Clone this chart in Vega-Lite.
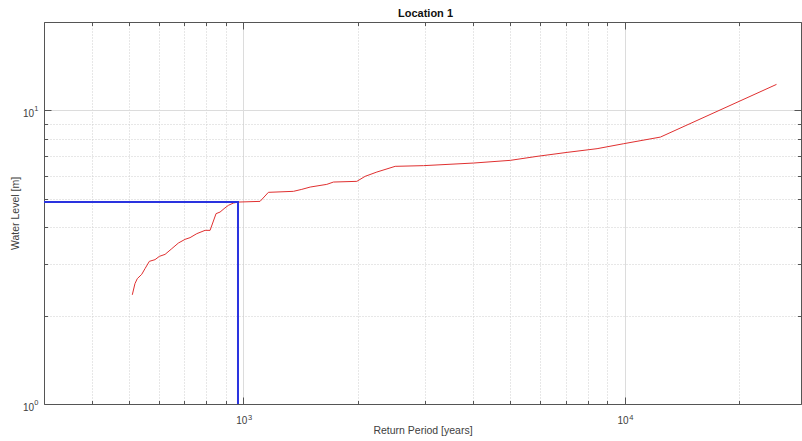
{
  "$schema": "https://vega.github.io/schema/vega-lite/v6.json",
  "width": 757,
  "height": 382,
  "autosize": {"type": "none"},
  "padding": {"left": 44, "top": 22, "right": 1, "bottom": 37},
  "background": "white",
  "title": {"text": "Location 1", "fontSize": 11, "fontWeight": "bold", "font": "Liberation Sans", "color": "#111111", "offset": 2.5, "dx": 3},
  "datasets": {
    "red": [
      {"rp": 511.3, "wl": 2.354},
      {"rp": 519.6, "wl": 2.570},
      {"rp": 527.0, "wl": 2.673},
      {"rp": 541.2, "wl": 2.764},
      {"rp": 552.1, "wl": 2.891},
      {"rp": 566.7, "wl": 3.061},
      {"rp": 586.5, "wl": 3.102},
      {"rp": 602.0, "wl": 3.183},
      {"rp": 623.2, "wl": 3.233},
      {"rp": 649.0, "wl": 3.381},
      {"rp": 675.3, "wl": 3.533},
      {"rp": 703.1, "wl": 3.637},
      {"rp": 724.7, "wl": 3.686},
      {"rp": 754.7, "wl": 3.803},
      {"rp": 793.5, "wl": 3.903},
      {"rp": 817.8, "wl": 3.903},
      {"rp": 847.9, "wl": 4.450},
      {"rp": 868.6, "wl": 4.505},
      {"rp": 889.9, "wl": 4.627},
      {"rp": 913.3, "wl": 4.748},
      {"rp": 941.4, "wl": 4.835},
      {"rp": 970.3, "wl": 4.873},
      {"rp": 1106, "wl": 4.899},
      {"rp": 1163, "wl": 5.259},
      {"rp": 1353, "wl": 5.300},
      {"rp": 1423, "wl": 5.383},
      {"rp": 1497, "wl": 5.481},
      {"rp": 1655, "wl": 5.598},
      {"rp": 1723, "wl": 5.701},
      {"rp": 1984, "wl": 5.732},
      {"rp": 2086, "wl": 5.962},
      {"rp": 2239, "wl": 6.166},
      {"rp": 2501, "wl": 6.448},
      {"rp": 2968, "wl": 6.483},
      {"rp": 4016, "wl": 6.617},
      {"rp": 5012, "wl": 6.758},
      {"rp": 5890, "wl": 6.973},
      {"rp": 7061, "wl": 7.194},
      {"rp": 8464, "wl": 7.406},
      {"rp": 9940, "wl": 7.701},
      {"rp": 12407, "wl": 8.111},
      {"rp": 25010, "wl": 12.26}
    ],
    "blue": [
      {"rp": 300, "wl": 4.873, "k": 1},
      {"rp": 968, "wl": 4.873, "k": 2},
      {"rp": 968, "wl": 1, "k": 3}
    ]
  },
  "resolve": {"axis": {"x": "independent", "y": "independent"}},
  "layer": [
    {
      "data": {"name": "red"},
      "mark": {"type": "line", "color": "#e03030", "strokeWidth": 1, "clip": true},
      "encoding": {
        "x": {"field": "rp", "type": "quantitative",
          "scale": {"type": "log", "domain": [300, 29000], "nice": false, "zero": false},
          "axis": {"orient": "bottom", "values": [1000, 10000], "grid": true, "gridColor": "#dcdcdc", "gridWidth": 1,
            "domain": true, "ticks": true, "tickSize": -7, "labelPadding": 18, "labelAlign": "right", "labelOffset": 3.5,
            "labelExpr": "'10'", "title": "Return Period [years]", "titlePadding": 0}},
        "y": {"field": "wl", "type": "quantitative",
          "scale": {"type": "log", "domain": [1, 20], "nice": false, "zero": false},
          "axis": {"orient": "left", "values": [1, 10], "grid": true, "gridColor": "#dcdcdc", "gridWidth": 1,
            "domain": true, "ticks": true, "tickSize": -7, "labelPadding": 17.5, "labelOffset": 3.5,
            "labelExpr": "'10'", "title": "Water Level [m]", "titlePadding": 2}}
      }
    },
    {
      "data": {"name": "blue"},
      "mark": {"type": "line", "color": "#2a33df", "strokeWidth": 2, "clip": true},
      "encoding": {
        "x": {"field": "rp", "type": "quantitative",
          "scale": {"type": "log", "domain": [300, 29000], "nice": false, "zero": false},
          "axis": {"orient": "bottom", "values": [400, 500, 600, 700, 800, 900, 2000, 3000, 4000, 5000, 6000, 7000, 8000, 9000, 20000],
            "grid": true, "gridColor": "#cfcfcf", "gridDash": [1, 2], "gridWidth": 1,
            "domain": false, "ticks": true, "tickSize": -3.5, "labels": false, "title": null}},
        "y": {"field": "wl", "type": "quantitative",
          "scale": {"type": "log", "domain": [1, 20], "nice": false, "zero": false},
          "axis": {"orient": "left", "values": [2, 3, 4, 5, 6, 7, 8, 9, 20],
            "grid": true, "gridColor": "#cfcfcf", "gridDash": [1, 2], "gridWidth": 1,
            "domain": false, "ticks": true, "tickSize": -3.5, "labels": false, "title": null}},
        "order": {"field": "k", "type": "quantitative"}
      }
    },
    {
      "data": {"name": "red"},
      "mark": {"type": "point", "opacity": 0},
      "encoding": {
        "x": {"field": "rp", "type": "quantitative",
          "scale": {"type": "log", "domain": [300, 29000], "nice": false, "zero": false},
          "axis": {"orient": "top", "values": [1000, 10000], "grid": false, "domain": true, "ticks": true, "tickSize": -7, "labels": false, "title": null}},
        "y": {"field": "wl", "type": "quantitative",
          "scale": {"type": "log", "domain": [1, 20], "nice": false, "zero": false},
          "axis": {"orient": "right", "values": [1, 10], "grid": false, "domain": true, "ticks": true, "tickSize": -7, "labels": false, "title": null}}
      }
    },
    {
      "data": {"name": "red"},
      "mark": {"type": "point", "opacity": 0},
      "encoding": {
        "x": {"field": "rp", "type": "quantitative",
          "scale": {"type": "log", "domain": [300, 29000], "nice": false, "zero": false},
          "axis": {"orient": "top", "values": [400, 500, 600, 700, 800, 900, 2000, 3000, 4000, 5000, 6000, 7000, 8000, 9000, 20000],
            "grid": false, "domain": false, "ticks": true, "tickSize": -3.5, "labels": false, "title": null}},
        "y": {"field": "wl", "type": "quantitative",
          "scale": {"type": "log", "domain": [1, 20], "nice": false, "zero": false},
          "axis": {"orient": "right", "values": [2, 3, 4, 5, 6, 7, 8, 9, 20],
            "grid": false, "domain": false, "ticks": true, "tickSize": -3.5, "labels": false, "title": null}}
      }
    },
    {
      "data": {"name": "red"},
      "mark": {"type": "point", "opacity": 0},
      "encoding": {
        "x": {"field": "rp", "type": "quantitative",
          "scale": {"type": "log", "domain": [300, 29000], "nice": false, "zero": false},
          "axis": {"orient": "bottom", "values": [1000, 10000], "grid": false, "domain": false, "ticks": true, "tickSize": -7, "tickOpacity": 0,
            "labelPadding": 16.5, "labelAlign": "left", "labelOffset": 4, "labelFontSize": 7.5,
            "labelExpr": "datum.value >= 10000 ? '4' : '3'", "title": null}},
        "y": {"field": "wl", "type": "quantitative",
          "scale": {"type": "log", "domain": [1, 20], "nice": false, "zero": false},
          "axis": {"orient": "left", "values": [1, 10], "grid": false, "domain": false, "ticks": true, "tickSize": -7, "tickOpacity": 0,
            "labelPadding": 13, "labelOffset": -1.5, "labelFontSize": 7.5,
            "labelExpr": "datum.value >= 10 ? '1' : '0'", "title": null}}
      }
    }
  ],
  "config": {
    "view": {"stroke": null},
    "axis": {
      "labelFont": "Liberation Sans", "titleFont": "Liberation Sans",
      "labelFontSize": 10, "titleFontSize": 10.5, "titleFontWeight": "normal",
      "labelColor": "#404040", "titleColor": "#404040",
      "domainColor": "#555555", "tickColor": "#555555", "domainWidth": 1, "tickWidth": 1
    }
  }
}
